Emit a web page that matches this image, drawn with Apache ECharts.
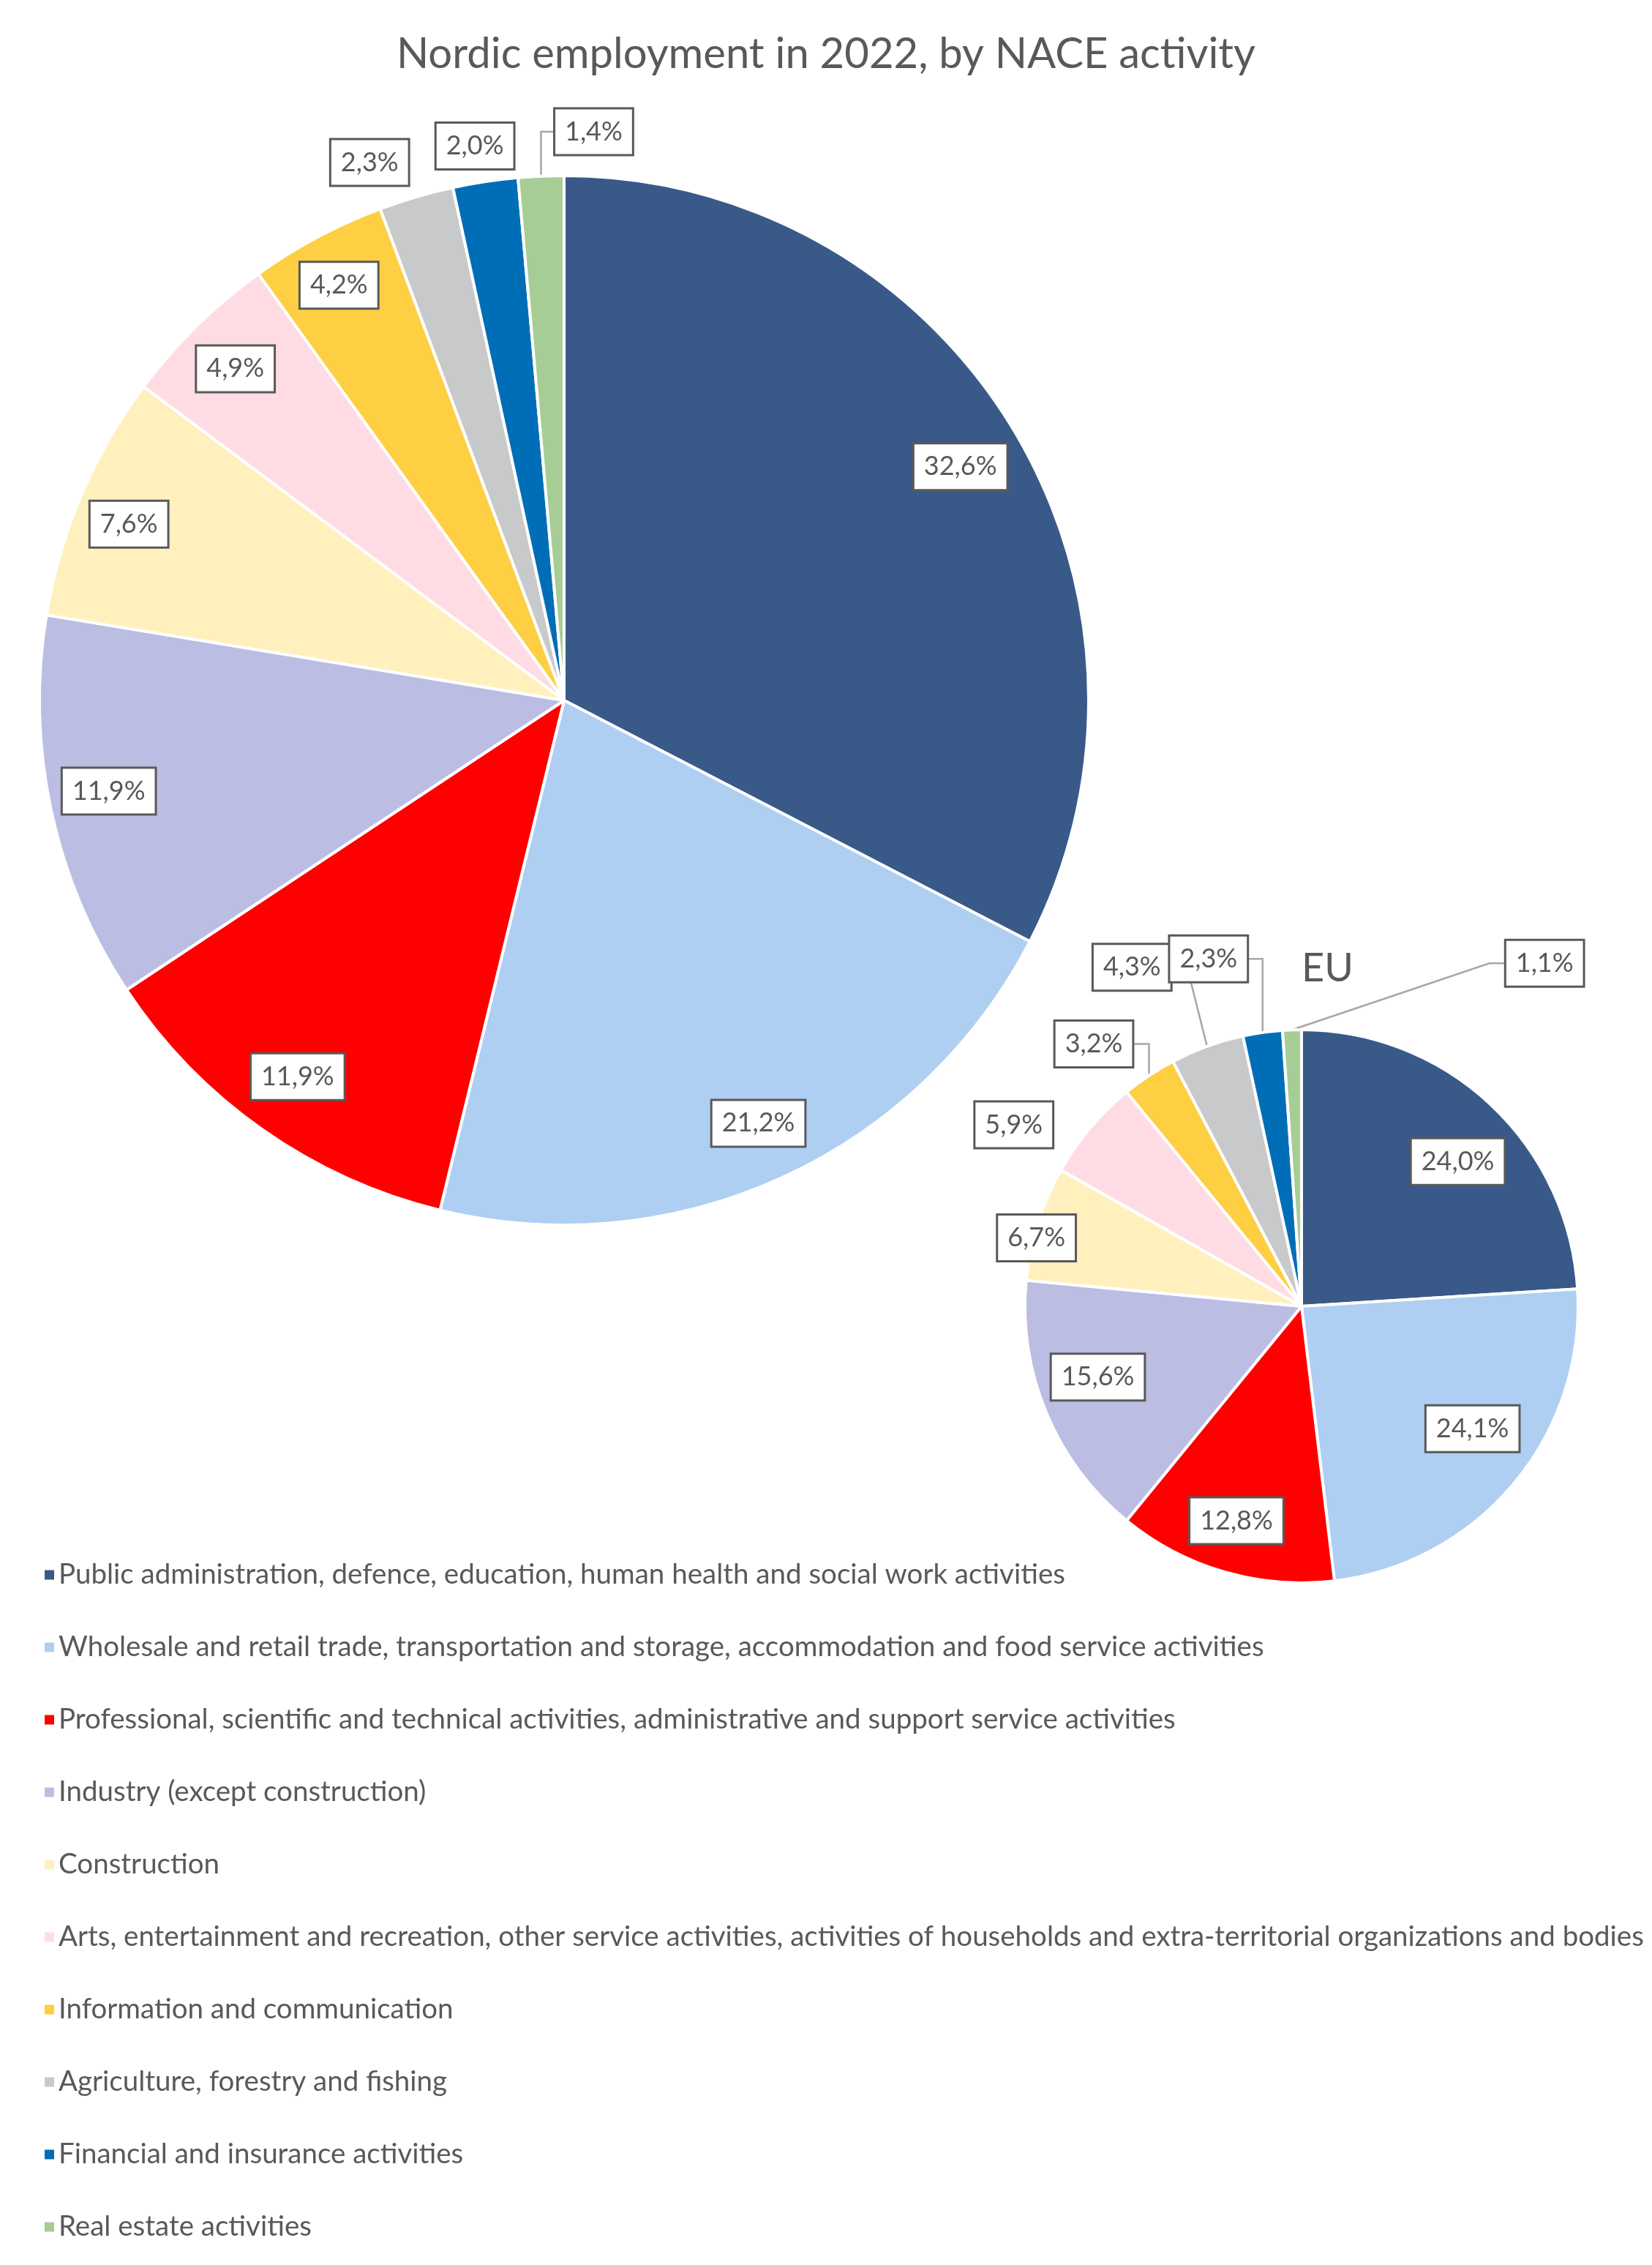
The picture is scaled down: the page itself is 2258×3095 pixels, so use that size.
<!DOCTYPE html>
<html>
<head>
<meta charset="utf-8">
<title>Nordic employment in 2022, by NACE activity</title>
<script src="https://cdn.jsdelivr.net/npm/echarts@6/dist/echarts.min.js"></script>
<style>
    html, body { margin: 0; padding: 0; background: #fff; }
    #chart { width: 2258px; height: 3095px; }
</style>
</head>
<body>
<div id="chart"></div>
<script>
// NACE activity groups (legend order = slice order)
const categories = [
    'Public administration, defence, education, human health and social work activities',
    'Wholesale and retail trade, transportation and storage, accommodation and food service activities',
    'Professional, scientific and technical activities, administrative and support service activities',
    'Industry (except construction)',
    'Construction',
    'Arts, entertainment and recreation, other service activities, activities of households and extra-territorial organizations and bodies',
    'Information and communication',
    'Agriculture, forestry and fishing',
    'Financial and insurance activities',
    'Real estate activities'
];

// share of employment, %
const nordicValues = [32.6, 21.2, 11.9, 11.9, 7.6, 4.9, 4.2, 2.3, 2.0, 1.4];
const euValues = [24.0, 24.1, 12.8, 15.6, 6.7, 5.9, 3.2, 4.3, 2.3, 1.1];

const colors = ['#395a88', '#aecff2', '#ff0000', '#bbbde3', '#fff0be',
                '#ffdce3', '#fecf42', '#c8c9cb', '#006eb7', '#a6cd95'];

const FONT = 'Lato';
const TXT = '#595959';

// pie geometry + where each data label sits (radius factor, angle shift in deg, leader line)
let nordicPie = {
    cx: 771, cy: 957, r: 717,
    labelR: [0.877, 0.887, 0.879, 0.885, 0.895, 0.89, 0.90, 1.09, 1.07, 1.085],
    shift: [0.8, -0.2, 0.2, 0.8, -1, -0.3, -0.4, -3.5, -0.5, 5.5],
    leader: [0, 0, 0, 0, 0, 0, 0, 0, 0, 1]
};
let euPie = {
    cx: 1779, cy: 1785, r: 378,
    labelR: [0.77, 0.76, 0.81, 0.78, 0.99, 1.23, 1.21, 1.37, 1.30, 1.52],
    shift: [4, -4.2, 0.7, 3.5, -3, -7.9, -4.9, -6.6, -6.9, 37.3],
    leader: [0, 0, 0, 0, 0, 0, 1, 1, 1, 1]
};

// mid angle of every slice, degrees clockwise from 12 o'clock
function midAngles(values) {
    let total = values.reduce((a, b) => a + b, 0);
    let acc = 0;
    return values.map(v => {
        let m = (acc + v / 2) / total * 360;
        acc += v;
        return m;
    });
}
nordicPie.mid = midAngles(nordicValues);
euPie.mid = midAngles(euValues);

function placeLabel(params, pie) {
    let i = params.dataIndex;
    let ang = (pie.mid[i] + pie.shift[i]) * Math.PI / 180;
    let rr = pie.r * pie.labelR[i];
    let x = pie.cx + rr * Math.sin(ang);
    let y = pie.cy - rr * Math.cos(ang);
    let out = { x: x, y: y, align: 'center', verticalAlign: 'middle' };
    if (pie.leader[i]) {
        //leader line: slice edge -> short elbow -> side of the box
        let a0 = pie.mid[i] * Math.PI / 180;
        let sx = pie.cx + pie.r * Math.sin(a0);
        let sy = pie.cy - pie.r * Math.cos(a0);
        let dir = sx > x ? 1 : -1;
        let ex = x + dir * params.labelRect.width / 2;
        let mx = ex + dir * Math.min(20, Math.abs(sx - ex));
        out.labelLinePoints = [[sx, sy], [mx, y], [ex, y]];
    }
    return out;
}

function pieSeries(name, values, pie) {
    return {
        name: name,
        type: 'pie',
        center: [pie.cx, pie.cy],
        radius: [0, pie.r],
        startAngle: 90,
        clockwise: true,
        avoidLabelOverlap: false,
        minShowLabelAngle: 0,
        emphasis: { disabled: true },
        itemStyle: { borderColor: '#fff', borderWidth: 4 },
        label: {
            show: true,
            position: 'outside',
            formatter: p => p.value.toFixed(1).replace('.', ',') + '%',
            fontFamily: FONT,
            fontSize: 36,
            lineHeight: 43,
            color: TXT,
            backgroundColor: '#fff',
            borderColor: TXT,
            borderWidth: 3,
            padding: [9, 13, 9, 13]
        },
        labelLine: { show: false, smooth: false, lineStyle: { color: '#a6a6a6', width: 2.5 } },
        labelLayout: params => placeLabel(params, pie),
        data: values.map((v, i) => ({
            name: categories[i],
            value: v,
            itemStyle: { color: colors[i] },
            labelLine: { show: !!pie.leader[i] }
        }))
    };
}

let chart = echarts.init(document.getElementById('chart'));

let option = {
    backgroundColor: '#fff',
    animation: false,
    title: [
        {
            text: 'Nordic employment in 2022, by NACE activity',
            left: 'center',
            top: 40,
            textStyle: { fontFamily: FONT, fontSize: 58, fontWeight: 'normal', color: TXT }
        },
        {
            text: 'EU',
            left: 1774,
            top: 1292,
            textStyle: { fontFamily: FONT, fontSize: 54, fontWeight: 'normal', color: TXT }
        }
    ],
    legend: {
        orient: 'vertical',
        left: 54,
        top: 2124,
        icon: 'rect',
        itemWidth: 15,
        itemHeight: 15,
        itemGap: 53,
        selectedMode: false,
        textStyle: { fontFamily: FONT, fontSize: 38.5, lineHeight: 46, color: TXT },
        data: categories
    },
    series: [
        pieSeries('Nordic', nordicValues, nordicPie),
        pieSeries('EU', euValues, euPie)
    ]
};

chart.setOption(option);
</script>
</body>
</html>
